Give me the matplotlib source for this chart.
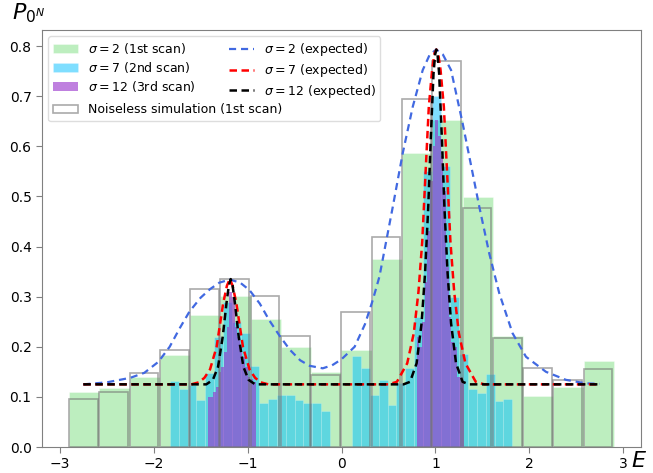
import numpy as np
import matplotlib
matplotlib.use("Agg")
import matplotlib.pyplot as plt
from matplotlib.lines import Line2D

# ---------------- data ----------------
# 1st scan (sigma = 2) : 18 bins from -2.9 to 2.9
scan1_edges = np.linspace(-2.9, 2.9, 19)
scan1_vals = [0.109, 0.118, 0.140, 0.183, 0.263, 0.301, 0.255, 0.200, 0.150,
              0.193, 0.375, 0.587, 0.652, 0.499, 0.221, 0.102, 0.120, 0.172]
noiseless_vals = [0.095, 0.109, 0.148, 0.193, 0.316, 0.335, 0.301, 0.221, 0.143,
                  0.270, 0.418, 0.694, 0.771, 0.476, 0.217, 0.158, 0.134, 0.155]

# 2nd scan (sigma = 7) : two windows of 18 bins
scan2_left_edges = np.linspace(-1.83, -0.12, 19)
scan2_left_vals = [0.132, 0.116, 0.123, 0.094, 0.147, 0.220, 0.290, 0.250, 0.227,
                   0.162, 0.088, 0.096, 0.104, 0.104, 0.094, 0.088, 0.088, 0.072]
scan2_right_edges = np.linspace(0.11, 1.82, 19)
scan2_right_vals = [0.182, 0.157, 0.104, 0.134, 0.083, 0.127, 0.157, 0.260, 0.550,
                    0.700, 0.560, 0.300, 0.185, 0.116, 0.108, 0.145, 0.092, 0.096]

# 3rd scan (sigma = 12) : two windows of 18 bins
scan3_left_edges = np.linspace(-1.42, -0.915, 19)
scan3_left_vals = [0.100, 0.100, 0.110, 0.120, 0.150, 0.160, 0.190, 0.240, 0.310,
                   0.300, 0.240, 0.220, 0.200, 0.180, 0.160, 0.140, 0.135, 0.130]
scan3_right_edges = np.linspace(0.80, 1.31, 19)
scan3_right_vals = [0.220, 0.200, 0.250, 0.330, 0.430, 0.530, 0.600, 0.652, 0.620,
                    0.580, 0.510, 0.360, 0.260, 0.210, 0.200, 0.140, 0.140, 0.130]

# expected curves
exp2_E = [-2.75, -2.5, -2.25, -2.1, -1.95, -1.83, -1.72, -1.62, -1.50, -1.40,
          -1.30, -1.19, -1.08, -0.98, -0.87, -0.77, -0.66, -0.55, -0.44, -0.34,
          -0.2, -0.1, 0.0, 0.14, 0.25, 0.333, 0.404, 0.546, 0.652, 0.759, 0.865,
          0.94, 1.01, 1.08, 1.167, 1.29, 1.397, 1.468, 1.574, 1.68, 1.822, 1.965,
          2.178, 2.39, 2.60, 2.75]
exp2_P = [0.125, 0.129, 0.138, 0.148, 0.170, 0.200, 0.238, 0.270, 0.298, 0.315,
          0.328, 0.334, 0.328, 0.313, 0.286, 0.253, 0.222, 0.194, 0.173, 0.162,
          0.157, 0.163, 0.175, 0.200, 0.245, 0.293, 0.340, 0.479, 0.586, 0.679, 0.752,
          0.783, 0.793, 0.783, 0.752, 0.646, 0.546, 0.479, 0.386, 0.307, 0.227, 0.180,
          0.150, 0.134, 0.127, 0.126]

exp7_E = [-2.75, -1.60, -1.52, -1.46, -1.40, -1.33, -1.26, -1.22, -1.19, -1.16,
          -1.12, -1.05, -0.98, -0.92, -0.86, -0.78, 0.50, 0.59, 0.70, 0.77, 0.82,
          0.86, 0.895, 0.93, 0.965, 0.99, 1.01, 1.03, 1.055, 1.09, 1.125, 1.16,
          1.20, 1.25, 1.32, 1.43, 1.52, 2.75]
exp7_P = [0.125, 0.125, 0.129, 0.138, 0.155, 0.200, 0.287, 0.322, 0.335, 0.322,
          0.287, 0.200, 0.155, 0.138, 0.129, 0.125, 0.125, 0.130, 0.167, 0.227, 0.310,
          0.410, 0.546, 0.679, 0.752, 0.785, 0.793, 0.785, 0.752, 0.679, 0.546, 0.410,
          0.310, 0.227, 0.167, 0.130, 0.125, 0.125]

exp12_E = [-2.75, -1.44, -1.37, -1.315, -1.265, -1.225, -1.20, -1.18, -1.16, -1.135,
           -1.095, -1.045, -0.99, -0.92, 0.66, 0.73, 0.80, 0.853, 0.89, 0.924, 0.95,
           0.98, 0.997, 1.01, 1.023, 1.04, 1.07, 1.096, 1.13, 1.167, 1.22, 1.29,
           1.36, 2.75]
exp12_P = [0.125, 0.125, 0.134, 0.160, 0.220, 0.287, 0.322, 0.335, 0.322, 0.287,
           0.220, 0.160, 0.134, 0.125, 0.125, 0.130, 0.167, 0.247, 0.347, 0.479, 0.612,
           0.745, 0.783, 0.793, 0.783, 0.745, 0.612, 0.479, 0.347, 0.247, 0.167, 0.130,
           0.125, 0.125]

x_ticks = [-3, -2, -1, 0, 1, 2, 3]
y_ticks = [0.0, 0.1, 0.2, 0.3, 0.4, 0.5, 0.6, 0.7, 0.8]

# ---------------- plot ----------------
fig = plt.figure(figsize=(6.53, 4.73), dpi=100)
ax = fig.add_axes([42 / 653, 1 - 447 / 473, (641 - 42) / 653, (447 - 30) / 473])

green = '#bdeebf'
cyan = (0.0, 0.75, 1.0, 0.5)
purple = (0.6, 0.196, 0.8, 0.62)


def bars(edges, vals, **kw):
    edges = np.asarray(edges)
    w = np.diff(edges)
    return ax.bar(edges[:-1], vals, width=w, align='edge', **kw)


h_green = bars(scan1_edges, scan1_vals, color=green, edgecolor=(1, 1, 1, 0.4),
               linewidth=0.6, zorder=1)
h_cyan = bars(scan2_left_edges, scan2_left_vals, color=cyan, edgecolor=(1, 1, 1, 0.25),
              linewidth=0.5, zorder=2)
bars(scan2_right_edges, scan2_right_vals, color=cyan, edgecolor=(1, 1, 1, 0.25),
     linewidth=0.5, zorder=2)
h_purple = bars(scan3_left_edges, scan3_left_vals, color=purple, linewidth=0, zorder=3)
bars(scan3_right_edges, scan3_right_vals, color=purple, linewidth=0, zorder=3)

e = np.asarray(scan1_edges)
h_noise = ax.bar(e[:-1], noiseless_vals, width=np.diff(e) * 0.95, align='edge',
                 fill=False, edgecolor=(0.45, 0.45, 0.45, 0.6), linewidth=1.2,
                 zorder=4)

h_b, = ax.plot(exp2_E, exp2_P, '--', color='royalblue', lw=1.6, zorder=5,
               dashes=(3.2, 2.2))
h_r, = ax.plot(exp7_E, exp7_P, '--', color='red', lw=1.8, zorder=6,
               dashes=(3.0, 1.8))
h_k, = ax.plot(exp12_E, exp12_P, '--', color='black', lw=1.8, zorder=7,
               dashes=(3.0, 1.8))

ax.set_xlim(-3.19, 3.19)
ax.set_ylim(0, 0.832)
ax.set_xticks(x_ticks)
ax.set_yticks(y_ticks)
ax.set_yticklabels([f'{v:.1f}' for v in y_ticks])
ax.tick_params(labelsize=10, color='grey', length=4)
for s in ax.spines.values():
    s.set_color('grey')

ax.set_ylabel(r'$P_{0^N}$', fontsize=16, rotation=0)
ax.yaxis.set_label_coords(-0.022, 1.012)
ax.set_xlabel(r'$E$', fontsize=16)
ax.xaxis.set_label_coords(0.997, -0.01)

blank = Line2D([], [], linestyle='none', marker=None)
leg_kw = dict(fontsize=9, labelspacing=0.3, columnspacing=2.6,
              handlelength=2.0, handletextpad=0.8, borderpad=0.4)
leg1 = ax.legend([h_green, h_cyan, h_purple, blank, h_b, h_r, h_k, blank],
                 [r'$\sigma=2$ (1st scan)', r'$\sigma=7$ (2nd scan)',
                  r'$\sigma=12$ (3rd scan)', ' ',
                  r'$\sigma=2$ (expected)', r'$\sigma=7$ (expected)',
                  r'$\sigma=12$ (expected)', ' '],
                 ncol=2, loc='upper left', framealpha=0.85, edgecolor='#d8d8d8',
                 **leg_kw)
leg1.set_zorder(20)

fig.canvas.draw()
renderer = fig.canvas.get_renderer()
bb = leg1.get_window_extent(renderer).transformed(ax.transAxes.inverted())
ax.add_artist(leg1)
leg2 = ax.legend([h_noise], ['Noiseless simulation (1st scan)'],
                 loc='lower left', bbox_to_anchor=(bb.x0, bb.y0),
                 borderaxespad=0, frameon=False, **leg_kw)
leg2.set_zorder(21)

fig.savefig('out.png', dpi=100)
